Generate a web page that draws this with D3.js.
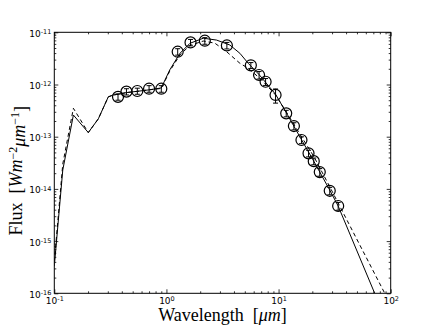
<!DOCTYPE html>
<html>
<head>
<meta charset="utf-8">
<script src="https://cdn.jsdelivr.net/npm/d3@7"></script>
<style>
  body { margin: 0; background: #fff; }
  svg { display: block; }
  .tick text { font-family: "DejaVu Sans", sans-serif; font-size: 9px; fill: #000; }
  .domain { stroke: none; }
  .tick line { stroke: #000; stroke-width: 0.8; }
  .axis-label { white-space: pre; }
</style>
</head>
<body>
<div class="chart"></div>
<script>
var svgWidth = 434;
var svgHeight = 327;

var margin = { top: 32.3, right: 43.3, bottom: 33.7, left: 54.3 };
var width = svgWidth - margin.left - margin.right;
var height = svgHeight - margin.top - margin.bottom;

// observed photometry (wavelength in um, flux in W m^-2 um^-1)
var obsWave = [0.37, 0.44, 0.55, 0.70, 0.90, 1.26, 1.64, 2.2, 3.46, 5.66, 6.7, 7.66,
  9.4, 11.7, 13.7, 16.0, 18.5, 20.6, 23.3, 28.6, 34];
var obsFlux = [5.8e-13, 7.3e-13, 7.5e-13, 8.3e-13, 8.3e-13, 4.25e-12, 6.4e-12, 6.9e-12,
  5.6e-12, 2.33e-12, 1.52e-12, 1.13e-12, 6.3e-13, 2.8e-13, 1.6e-13, 8.65e-14, 4.8e-14,
  3.4e-14, 2.1e-14, 9.2e-15, 4.7e-15];
var obsErr = [0.8e-13, 1.0e-13, 1.0e-13, 1.2e-13, 1.2e-13, 0.6e-12, 0.9e-12, 1.0e-12,
  0.8e-12, 0.3e-12, 0.25e-12, 0.17e-12, 1.9e-13, 0.4e-13, 0.25e-13, 1.3e-14, 0.7e-14,
  0.5e-14, 0.35e-14, 1.5e-15, 0.8e-15];

// model 1 (solid)
var solidWave = [0.1, 0.119, 0.148, 0.201, 0.247, 0.303, 0.336, 0.37, 0.44, 0.55, 0.70, 0.90,
  1.07, 1.32, 1.62, 2.13, 2.8, 3.68, 4.52, 5.36, 6.7, 9.4, 11.7, 16.0, 20.6, 28.6, 34, 72];
var solidFlux = [3.3e-16, 2.3e-14, 2.6e-13, 1.2e-13, 2.2e-13, 5.8e-13, 6.3e-13, 6.5e-13,
  7.0e-13, 7.4e-13, 7.9e-13, 8.6e-13, 1.9e-12, 3.96e-12, 6.15e-12, 7.7e-12, 7.1e-12,
  5.7e-12, 3.96e-12, 2.55e-12, 1.55e-12, 6.5e-13, 2.9e-13, 8.8e-14, 3.4e-14, 9.5e-15,
  4.7e-15, 1e-16];

// model 2 (dashed)
var dashWave = [0.1, 0.119, 0.148, 0.201, 0.247, 0.303, 0.336, 0.37, 0.44, 0.55, 0.70, 0.90,
  1.07, 1.32, 1.62, 2.13, 2.7, 3.44, 4.52, 5.36, 7.0, 9.4, 11.7, 16.0, 20.6, 28.6, 88.5];
var dashFlux = [4.0e-16, 3.0e-14, 3.5e-13, 1.2e-13, 2.2e-13, 5.8e-13, 6.3e-13, 6.5e-13,
  7.0e-13, 7.4e-13, 7.9e-13, 8.4e-13, 1.8e-12, 3.7e-12, 5.6e-12, 6.8e-12, 6.2e-12,
  4.25e-12, 2.55e-12, 2.04e-12, 1.25e-12, 6.3e-13, 3.0e-13, 1.0e-13, 4.2e-14, 1.1e-14, 1e-16];

var xDomain = [0.1, 100];
var yDomain = [1e-16, 1e-11];

var svg = d3.select(".chart")
  .append("svg")
  .attr("width", svgWidth)
  .attr("height", svgHeight);

var chartGroup = svg.append("g")
  .attr("transform", `translate(${margin.left}, ${margin.top})`);

var xScale = d3.scaleLog().domain(xDomain).range([0, width]);
var yScale = d3.scaleLog().domain(yDomain).range([height, 0]);

function isMajor(d) {
  var l = Math.log10(d);
  return Math.abs(l - Math.round(l)) < 1e-6;
}

// write 10^n labels with a superscript
function powerLabel(sel) {
  sel.each(function (d) {
    var t = d3.select(this);
    t.text(null);
    if (!isMajor(d)) return;
    var e = Math.round(Math.log10(d));
    t.append("tspan").text("10");
    t.append("tspan")
      .attr("dy", "-0.45em")
      .attr("font-size", "6.5px")
      .text(e < 0 ? "-" + (-e) : e);
  });
}

function styleTicks(axisG) {
  axisG.selectAll(".tick line").each(function (d) {
    var ln = d3.select(this);
    var major = isMajor(d);
    var x2 = +ln.attr("x2") || 0, y2 = +ln.attr("y2") || 0;
    var len = major ? 4 : 2;
    if (x2) ln.attr("x2", Math.sign(x2) * len);
    if (y2) ln.attr("y2", Math.sign(y2) * len);
  });
}

var xTicks = xScale.ticks();
var yTicks = yScale.ticks();

// bottom axis
var bottomAxis = d3.axisBottom(xScale).tickValues(xTicks).tickSizeInner(-4).tickPadding(4);
var xAxis = chartGroup.append("g")
  .attr("transform", `translate(0, ${height})`)
  .call(bottomAxis);
xAxis.selectAll(".tick text").call(powerLabel);
styleTicks(xAxis);

// top axis (ticks only)
var topAxis = d3.axisTop(xScale).tickValues(xTicks).tickSizeInner(-4).tickFormat("");
var xAxisTop = chartGroup.append("g").call(topAxis);
styleTicks(xAxisTop);

// left axis
var leftAxis = d3.axisLeft(yScale).tickValues(yTicks).tickSizeInner(-4).tickPadding(3);
var yAxis = chartGroup.append("g").call(leftAxis);
yAxis.selectAll(".tick text").call(powerLabel).attr("dy", "0.45em");
styleTicks(yAxis);

// right axis (ticks only)
var rightAxis = d3.axisRight(yScale).tickValues(yTicks).tickSizeInner(-4).tickFormat("");
var yAxisRight = chartGroup.append("g")
  .attr("transform", `translate(${width}, 0)`)
  .call(rightAxis);
styleTicks(yAxisRight);

// clip for model lines
chartGroup.append("clipPath").attr("id", "clip")
  .append("rect").attr("width", width).attr("height", height);

var line = d3.line()
  .x(d => xScale(d[0]))
  .y(d => yScale(d[1]));

var linesGroup = chartGroup.append("g").attr("clip-path", "url(#clip)");

linesGroup.append("path")
  .datum(d3.zip(dashWave, dashFlux))
  .attr("d", line)
  .attr("fill", "none")
  .attr("stroke", "#000")
  .attr("stroke-width", 1)
  .attr("stroke-dasharray", "4,3");

linesGroup.append("path")
  .datum(d3.zip(solidWave, solidFlux))
  .attr("d", line)
  .attr("fill", "none")
  .attr("stroke", "#000")
  .attr("stroke-width", 1);

// observed points with error bars
var obs = d3.zip(obsWave, obsFlux, obsErr);
var pointsGroup = chartGroup.append("g").classed("points-group", true);

var pt = pointsGroup.selectAll("g")
  .data(obs)
  .enter()
  .append("g");

pt.append("line")
  .attr("x1", d => xScale(d[0]))
  .attr("x2", d => xScale(d[0]))
  .attr("y1", d => yScale(d[1] - d[2]))
  .attr("y2", d => yScale(d[1] + d[2]))
  .attr("stroke", "#000")
  .attr("stroke-width", 1);

[1, -1].forEach(function (s) {
  pt.append("line")
    .attr("x1", d => xScale(d[0]) - 2.5)
    .attr("x2", d => xScale(d[0]) + 2.5)
    .attr("y1", d => yScale(d[1] + s * d[2]))
    .attr("y2", d => yScale(d[1] + s * d[2]))
    .attr("stroke", "#000")
    .attr("stroke-width", 1);
});

pt.append("circle")
  .attr("cx", d => xScale(d[0]))
  .attr("cy", d => yScale(d[1]))
  .attr("r", 5.5)
  .attr("fill", "none")
  .attr("stroke", "#000")
  .attr("stroke-width", 1.2);

// frame
chartGroup.append("rect")
  .attr("width", width)
  .attr("height", height)
  .attr("fill", "none")
  .attr("stroke", "#000")
  .attr("stroke-width", 1);

// axis labels
var labelFont = "'Liberation Serif', 'DejaVu Serif', serif";

var xLabel = svg.append("text")
  .attr("class", "axis-label")
  .attr("x", margin.left + width / 2)
  .attr("y", 321)
  .attr("text-anchor", "middle")
  .attr("font-family", labelFont)
  .attr("font-size", "18px");
xLabel.append("tspan").text("Wavelength  [");
xLabel.append("tspan").attr("font-style", "italic").text("μm");
xLabel.append("tspan").text("]");

var yLabel = svg.append("text")
  .attr("class", "axis-label")
  .attr("transform", `translate(22, ${margin.top + height / 2 + 8}) rotate(-90)`)
  .attr("text-anchor", "middle")
  .attr("font-family", labelFont)
  .attr("font-size", "18px");
yLabel.append("tspan").text("Flux  [");
yLabel.append("tspan").attr("font-style", "italic").text("Wm");
yLabel.append("tspan").attr("dy", "-0.45em").attr("font-size", "12px").text("−2");
yLabel.append("tspan").attr("dy", "0.45em").attr("font-style", "italic").text("μm");
yLabel.append("tspan").attr("dy", "-0.45em").attr("font-size", "12px").text("−1");
yLabel.append("tspan").attr("dy", "0.45em").text("]");
</script>
</body>
</html>
